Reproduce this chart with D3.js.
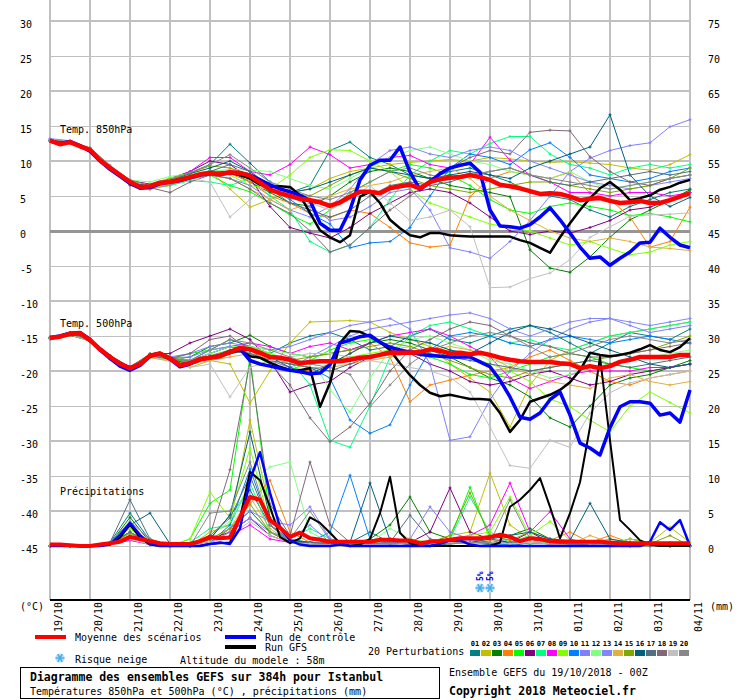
<!DOCTYPE html>
<html>
<head>
<meta charset="utf-8">
<script src="https://cdn.jsdelivr.net/npm/d3@7"></script>
<style>
body { margin: 0; background: #fff; }
svg text { font-family: "DejaVu Sans Mono", monospace; font-size: 10px; fill: #000; }
</style>
</head>
<body>
<div id="chart"></div>
<script>
// ---- data ----
var days = ["19/10","20/10","21/10","22/10","23/10","24/10","25/10","26/10","27/10",
            "28/10","29/10","30/10","31/10","01/11","02/11","03/11","04/11"];
var tempTicks = [30,25,20,15,10,5,0,-5,-10,-15,-20,-25,-30,-35,-40,-45];

// 6-hourly series: mean, control run, GFS run
var mean850 = [12.9,12.4,12.7,12.1,11.6,10.1,9.0,8.0,7.0,6.3,6.4,6.9,7.0,7.3,7.7,8.1,8.3,8.1,8.4,8.3,7.9,
  6.9,5.9,5.4,5.0,4.6,4.4,4.1,3.6,4.1,4.9,5.6,5.6,5.4,6.1,6.4,6.6,6.1,7.0,7.4,7.6,
  7.7,8.0,7.7,7.3,6.6,6.4,6.1,5.7,5.3,5.4,5.3,4.9,4.4,4.6,4.7,4.3,4.0,4.1,4.3,4.0,4.0,4.4,4.9,5.4];
var ctrl850 = [12.9,12.5,12.8,12.2,11.4,10.0,8.8,7.8,6.8,6.1,6.2,6.8,7.0,7.2,7.6,8.0,8.2,8.2,8.4,8.3,8.0,
  7.3,6.6,6.0,5.6,5.1,4.4,1.1,0.1,0.1,3.0,7.3,9.4,10.1,10.1,12.0,8.4,5.9,7.0,8.2,9.0,
  9.4,9.7,8.4,3.0,0.7,0.6,0.4,0.9,2.0,3.3,1.6,-0.3,-2.3,-3.9,-3.7,-4.9,-3.9,-3.0,-1.7,-1.6,0.4,-0.9,-2.0,-2.4];
var gfs850 = [12.8,12.4,12.7,12.1,11.5,10.2,9.1,8.0,7.0,6.3,6.4,6.9,7.1,7.4,7.7,8.1,8.3,8.0,8.3,8.0,7.5,
  6.6,6.3,6.4,6.3,5.1,2.6,0.1,-0.9,-1.6,-0.6,4.9,5.6,4.0,1.6,0.4,-0.6,-0.9,-0.3,-0.3,-0.6,
  -0.7,-0.8,-0.8,-0.8,-0.8,-0.8,-1.3,-1.7,-2.4,-3.1,-0.9,1.1,3.0,4.7,6.1,7.0,5.9,4.4,4.7,5.1,5.9,6.3,6.9,7.3];

var mean500 = [-15.3,-15.1,-14.7,-14.6,-15.6,-16.9,-18.0,-19.0,-19.6,-19.0,-17.8,-17.5,-18.2,-19.2,-18.9,-18.3,-18.1,-17.9,-17.3,-16.7,
  -16.9,-17.4,-18.0,-18.1,-18.4,-18.9,-18.7,-18.6,-18.6,-18.6,-18.4,-18.1,-18.0,-17.7,-17.4,-17.4,-17.4,-17.3,-16.9,-17.1,
  -17.5,-17.4,-17.6,-17.4,-17.7,-18.1,-18.4,-18.6,-18.7,-18.7,-18.7,-18.9,-19.0,-19.6,-19.3,-19.6,-19.3,-18.7,-18.4,-18.0,
  -18.0,-18.0,-18.0,-17.7,-17.7];
var ctrl500 = [-15.2,-15.0,-14.6,-14.5,-15.5,-17.0,-18.2,-19.3,-19.9,-19.2,-17.9,-17.5,-18.3,-19.4,-19.0,-18.4,-18.1,-17.8,-17.2,-16.8,
  -18.5,-19.0,-19.3,-19.6,-19.9,-20.1,-20.4,-20.3,-19.1,-16.0,-15.6,-15.1,-14.9,-15.9,-16.6,-17.0,-17.3,-17.6,-17.8,-17.9,
  -18.0,-18.0,-18.0,-18.7,-19.4,-21.3,-23.7,-26.6,-26.9,-26.0,-24.1,-23.0,-26.3,-30.3,-31.0,-32.0,-28.1,-25.1,-24.4,-24.4,
  -24.6,-26.3,-26.0,-27.3,-22.7];
var gfs500 = [-15.3,-15.1,-14.8,-14.6,-15.7,-16.8,-17.9,-18.9,-19.5,-18.9,-17.7,-17.4,-18.1,-19.1,-18.8,-18.2,-18.0,-17.9,-17.4,-17.0,
  -17.9,-18.1,-18.8,-19.4,-19.9,-19.9,-19.6,-25.1,-21.7,-16.0,-14.3,-14.4,-15.1,-15.9,-17.0,-18.9,-20.6,-22.0,-23.1,-23.6,
  -23.4,-23.7,-24.0,-24.0,-24.1,-26.0,-28.7,-27.0,-24.4,-23.9,-23.4,-22.7,-21.6,-19.9,-17.4,-17.7,-17.9,-17.7,-17.4,-16.9,
  -16.3,-17.0,-17.3,-16.6,-15.3];

// precipitation in mm (drawn on the right-hand scale, 0 mm = -45)
var meanPrecip = [0.2,0.2,0.1,0,0,0.2,0.4,0.6,1.3,1.0,0.7,0.4,0.3,0.3,0.3,0.7,1.3,1.1,1.2,4.1,
  7.0,6.6,3.7,2.6,1.3,1.9,1.1,0.9,0.6,0.6,0.6,0.6,0.6,0.9,0.9,0.8,0.8,0.4,0.6,0.7,
  0.9,1.1,1.1,1.1,1.3,1.6,1.3,0.7,1.1,1.0,0.7,0.6,0.6,0.6,0.6,0.6,0.5,0.4,0.4,0.4,0.4,0.4,0.4,0.4,0.4];
var ctrlPrecip = [0,0,0,0,0,0,0.2,1.6,3.3,1.6,0.3,0,0,0,0,0,0.3,0.5,0.3,2.5,
  9.4,13.4,7.6,2.7,0.8,0.2,0,0,0,0.2,0,0,0,0,0,0,0,0,0,0.3,
  0.8,0.8,0.2,0,0,0,0,0,0,0,0,0,0,0,0,0,0,0,0,0,0.6,3.4,2.3,3.7,0];
var gfsPrecip = [0,0,0,0,0,0,0.3,1.2,3.0,1.2,0.2,0,0,0,0,0,0.3,0.4,0.5,4.0,
  10.6,9.4,5.6,1.3,0.4,1.1,4.1,3.3,1.9,0.4,0,0.2,1.0,4.7,9.9,1.9,0.4,0,0,0,
  0,0,0,0,0,0.5,5.6,6.6,8.0,9.7,5.6,1.1,4.7,9.1,17.0,27.0,15.1,3.7,2.3,0.8,0.2,0,0,0,0];

// 20 perturbations, 12-hourly
var pertColors = ["#008080","#c0c000","#008000","#ff8000","#00ff00","#800080","#00ff80","#ff00ff","#80ff00","#0080ff",
                  "#8080ff","#80ff80","#8484ff","#e0b040","#80a800","#006080","#507080","#806878","#c0c0c0","#888888"];
var pertLabels = ["01","02","03","04","05","06","07","08","09","10","11","12","13","14","15","16","17","18","19","20"];

var pert850 = [
  [12.8,12.5,11.8,9.2,7.2,6.6,7.4,8.3,9.5,12.4,9.7,7.0,5.5,6.5,11.5,12.7,10.5,9.5,8.0,7.5,8.5,9.0,8.0,7.0,5.5,5.0,4.5,3.0,2.0,3.5,4.5,5.5,6.0],
  [12.9,12.6,11.5,8.9,6.8,6.0,6.5,7.5,8.5,6.0,3.4,4.5,5.5,6.0,7.5,8.5,9.0,9.5,9.8,10.0,10.2,10.0,10.5,10.3,10.0,9.8,9.9,9.7,9.5,9.0,8.7,9.5,10.9],
  [12.9,12.6,11.6,9.1,7.1,6.5,7.2,8.0,8.6,8.5,7.0,5.5,4.0,3.5,5.0,7.0,8.5,9.0,8.5,7.5,6.5,6.0,5.5,4.9,-2.7,-5.3,-5.9,-3.7,-0.9,1.6,3.0,4.4,5.9],
  [12.8,12.5,11.7,9.0,7.1,6.3,7.0,7.4,8.0,8.2,7.0,5.0,4.0,2.5,1.9,3.0,2.5,0.5,-1.7,-2.3,-2.0,4.9,7.5,8.5,8.0,7.5,8.4,5.4,4.5,2.0,-2.3,-1.5,3.4],
  [12.9,12.6,11.4,8.8,6.6,6.2,6.8,7.8,8.0,6.5,5.6,4.0,2.3,1.0,3.0,5.5,7.0,8.5,9.5,9.0,8.0,6.5,4.5,3.0,2.5,3.5,4.0,3.5,3.0,2.2,2.5,2.0,1.3],
  [13.0,12.7,11.8,9.1,7.2,6.7,7.5,8.5,10.0,9.5,7.5,3.5,0.5,-0.3,-1.0,0.5,2.5,4.0,5.5,6.0,5.5,4.0,2.0,0.0,-0.5,0.0,-0.3,0.5,1.5,3.0,3.4,4.5,5.5],
  [12.9,12.7,11.7,9.0,6.8,6.2,6.5,7.2,7.0,6.5,7.5,5.0,3.0,-1.5,-3.0,-2.0,0.5,4.5,8.0,10.0,11.5,11.0,12.5,13.5,13.5,11.0,9.5,9.0,8.0,9.0,9.5,9.0,9.5],
  [12.9,12.6,11.6,9.0,7.0,6.5,7.2,8.5,10.5,10.5,8.5,8.0,9.5,12.0,10.9,9.0,9.5,10.5,10.8,9.5,9.0,9.5,13.4,10.1,8.0,7.0,5.5,5.5,5.0,5.5,5.5,5.0,5.5],
  [12.8,12.5,11.5,8.9,6.9,6.6,7.6,8.0,8.5,8.0,6.5,6.0,8.0,10.5,11.6,11.5,10.0,8.5,6.0,4.0,3.0,2.0,1.0,0.5,0.0,-1.0,-2.0,-1.5,-2.5,-3.4,-3.0,-2.0,-1.5],
  [12.9,12.6,11.6,9.0,7.0,6.4,7.0,7.6,8.4,8.2,7.5,6.0,4.5,2.5,1.0,-2.4,-1.7,-1.5,0.5,5.0,9.0,11.0,10.5,9.5,11.6,12.6,10.5,8.0,7.5,7.0,7.5,8.5,9.0],
  [13.2,12.9,11.8,9.2,7.3,6.2,6.8,7.5,8.0,8.5,7.5,6.0,5.0,3.5,1.5,2.0,3.5,5.5,6.0,3.0,-2.4,-3.0,-3.9,-1.5,1.5,5.0,8.5,10.4,11.5,12.2,12.6,14.9,15.9],
  [12.9,12.6,11.7,9.2,7.3,7.0,7.8,8.2,8.5,8.8,8.7,8.5,7.5,6.5,6.0,7.5,9.0,10.5,11.5,12.0,11.0,10.0,9.5,8.5,8.0,7.5,8.5,7.0,6.0,6.5,7.0,7.5,8.0],
  [12.9,12.6,11.5,8.9,6.7,6.0,6.6,7.4,8.0,7.5,6.5,4.5,3.0,2.0,3.5,6.0,9.5,11.5,12.0,11.0,10.5,11.5,12.0,11.5,10.0,9.0,8.0,7.0,6.5,6.0,6.5,7.0,7.5],
  [12.8,12.5,11.4,8.8,6.6,5.9,6.8,7.5,8.0,7.5,6.0,4.5,3.0,4.0,5.0,6.0,6.5,7.0,8.0,8.5,9.0,7.5,5.0,3.0,1.5,0.0,-1.0,-1.5,-1.0,-1.5,-2.3,-2.5,-2.8],
  [12.9,12.6,11.7,9.1,7.1,6.5,7.4,8.3,9.3,9.0,8.0,6.5,5.5,5.0,6.5,8.0,9.0,8.5,7.5,6.5,6.0,5.5,6.0,6.5,7.0,7.0,6.5,6.0,5.5,6.0,6.5,7.5,9.0],
  [12.9,12.6,11.6,9.0,7.0,6.4,7.2,8.2,9.0,10.0,8.5,6.5,5.5,6.0,7.0,8.0,9.0,8.5,8.0,7.5,8.0,8.5,8.0,7.5,9.0,10.0,11.0,12.0,16.6,8.0,5.0,3.5,4.8],
  [12.9,12.6,11.5,8.9,6.8,6.2,6.9,7.8,8.5,9.5,8.5,6.0,4.0,3.0,2.0,3.0,5.0,6.5,7.0,6.5,7.0,8.0,8.5,9.0,8.0,7.0,6.5,7.0,7.5,8.0,8.5,8.0,8.5],
  [12.9,12.6,11.5,8.9,6.5,6.2,5.5,7.0,8.0,7.5,6.0,4.0,2.5,0.0,-3.0,-2.0,0.5,3.0,5.0,7.0,9.0,10.5,11.5,11.0,14.1,14.4,14.3,10.6,8.5,7.0,6.5,7.5,8.0],
  [12.8,12.5,11.6,9.0,7.0,6.6,7.2,7.5,7.0,2.0,4.5,7.0,5.5,4.0,3.0,4.5,6.5,4.0,1.5,2.0,3.0,0.6,-8.1,-8.0,-6.8,-6.0,-4.1,-0.9,0.6,2.1,2.3,2.4,2.6],
  [13.0,12.8,11.9,9.4,7.3,6.5,7.3,8.3,9.5,10.9,9.0,7.0,6.0,5.0,4.5,5.5,7.0,8.5,9.0,8.0,7.5,8.0,8.5,9.0,8.0,7.5,7.0,6.5,6.0,6.5,7.0,7.5,8.0]
];

var pert500 = [
  [-15.2,-14.6,-15.8,-18.3,-19.9,-17.5,-18.0,-18.5,-17.0,-15.5,-16.5,-17.5,-16.0,-15.0,-14.5,-15.5,-17.0,-16.5,-15.0,-14.0,-15.5,-16.0,-15.0,-14.0,-13.5,-14.5,-16.0,-17.5,-16.0,-14.5,-15.0,-15.5,-14.0],
  [-15.3,-14.8,-15.5,-17.8,-19.5,-17.6,-18.5,-19.5,-18.5,-19.0,-24.6,-20.0,-16.0,-13.0,-12.9,-12.8,-13.0,-14.5,-15.5,-16.5,-19.0,-21.0,-23.0,-28.0,-22.0,-18.5,-17.0,-16.0,-15.0,-14.5,-14.0,-13.5,-13.0],
  [-15.4,-14.9,-15.7,-18.1,-19.7,-17.9,-18.4,-18.0,-16.5,-16.0,-14.9,-16.5,-17.5,-18.0,-17.5,-17.0,-16.0,-15.5,-16.0,-17.0,-18.0,-19.5,-21.0,-22.0,-23.7,-26.7,-28.0,-25.0,-22.0,-21.0,-20.5,-19.5,-18.5],
  [-15.2,-14.6,-15.6,-18.2,-19.8,-18.0,-18.5,-19.0,-18.0,-17.5,-17.0,-18.5,-19.5,-20.0,-19.0,-17.5,-16.0,-18.0,-24.4,-22.0,-21.3,-20.6,-20.0,-19.5,-18.0,-17.0,-18.5,-20.0,-21.5,-22.0,-21.0,-20.5,-20.0],
  [-15.3,-14.7,-15.5,-17.9,-19.5,-17.7,-18.3,-17.5,-17.0,-16.5,-17.5,-19.0,-20.0,-18.5,-17.0,-16.0,-15.5,-16.5,-17.5,-18.0,-19.0,-20.5,-21.0,-20.0,-19.0,-18.0,-17.5,-18.0,-19.0,-19.5,-20.0,-19.5,-19.0],
  [-15.3,-14.5,-15.4,-17.8,-19.4,-17.6,-17.5,-16.0,-15.0,-14.0,-15.5,-18.5,-23.0,-22.0,-21.5,-19.5,-18.0,-17.0,-17.5,-19.0,-20.0,-21.5,-22.0,-21.5,-20.5,-20.0,-21.0,-22.0,-21.5,-20.5,-20.0,-19.5,-19.0],
  [-15.3,-14.7,-15.6,-18.0,-19.6,-17.8,-18.2,-18.8,-18.0,-17.0,-16.5,-17.5,-18.5,-22.0,-29.9,-30.9,-25.0,-18.0,-15.0,-13.5,-13.0,-14.0,-15.0,-16.0,-15.5,-16.5,-17.0,-16.0,-15.0,-14.5,-14.0,-13.5,-13.0],
  [-15.2,-14.7,-15.5,-18.0,-19.5,-17.8,-18.0,-18.5,-17.5,-16.5,-16.0,-16.5,-17.5,-16.5,-16.0,-17.0,-16.0,-15.0,-14.5,-14.0,-15.0,-16.5,-18.0,-21.0,-22.5,-21.5,-20.5,-20.0,-20.0,-20.0,-19.5,-19.5,-19.0],
  [-15.3,-14.8,-15.7,-18.1,-19.7,-17.9,-18.4,-19.0,-18.0,-17.0,-16.5,-17.5,-18.5,-19.0,-18.5,-18.0,-17.5,-17.0,-16.5,-16.0,-17.0,-18.0,-19.0,-20.0,-21.5,-24.0,-25.1,-27.0,-28.7,-25.0,-23.0,-24.5,-26.0],
  [-15.3,-14.7,-15.6,-18.0,-19.6,-17.8,-18.2,-18.5,-17.5,-16.5,-17.0,-18.0,-19.0,-19.5,-21.0,-27.0,-28.9,-27.7,-22.0,-17.0,-15.0,-14.5,-15.0,-16.0,-16.5,-15.5,-15.0,-15.5,-16.0,-15.5,-15.0,-15.5,-16.0],
  [-15.4,-14.8,-15.6,-18.0,-19.7,-17.9,-18.0,-17.5,-16.5,-16.0,-16.5,-17.0,-16.5,-15.5,-14.5,-13.5,-13.0,-12.5,-14.0,-19.0,-29.9,-29.4,-24.1,-20.0,-17.5,-15.5,-14.0,-13.0,-12.5,-13.5,-14.5,-14.0,-13.5],
  [-15.3,-14.7,-15.5,-17.9,-19.5,-17.6,-18.0,-18.5,-17.5,-16.5,-16.5,-17.0,-17.5,-18.0,-22.7,-25.9,-21.0,-17.0,-15.5,-15.0,-16.0,-17.0,-18.5,-19.0,-20.0,-21.0,-20.5,-19.5,-19.0,-18.5,-18.0,-17.5,-17.0],
  [-15.2,-14.6,-15.5,-17.9,-19.6,-17.7,-18.1,-18.0,-17.0,-16.5,-17.5,-18.5,-19.5,-18.0,-16.5,-15.0,-14.0,-13.5,-13.0,-12.5,-12.0,-11.7,-12.5,-14.0,-15.0,-14.0,-13.0,-12.5,-12.5,-13.0,-13.5,-13.0,-12.5],
  [-15.3,-14.8,-15.6,-18.1,-19.8,-18.1,-18.6,-19.0,-18.5,-18.0,-17.5,-18.0,-19.0,-19.5,-19.5,-19.0,-18.5,-18.0,-17.5,-17.0,-16.5,-17.0,-18.0,-19.5,-20.5,-21.5,-22.0,-22.5,-21.0,-20.5,-21.5,-22.0,-21.5],
  [-15.3,-14.7,-15.6,-18.0,-19.6,-17.8,-18.2,-18.8,-17.8,-17.0,-17.0,-18.0,-18.5,-18.0,-17.5,-17.0,-16.5,-16.0,-16.5,-17.5,-18.5,-19.5,-20.5,-21.0,-20.0,-19.5,-19.0,-18.5,-18.0,-17.5,-17.0,-16.0,-15.0],
  [-15.3,-14.7,-15.6,-18.0,-19.6,-17.8,-18.3,-19.0,-18.0,-17.5,-17.0,-18.0,-19.5,-20.5,-19.0,-17.5,-16.0,-15.0,-15.5,-16.0,-17.0,-17.5,-16.0,-14.5,-13.5,-14.0,-15.0,-16.0,-17.0,-18.0,-19.0,-19.5,-19.0],
  [-15.2,-14.6,-15.5,-17.9,-19.5,-17.7,-18.1,-18.6,-17.9,-17.2,-17.5,-18.5,-19.0,-19.5,-20.0,-19.0,-18.0,-17.5,-17.0,-17.5,-18.0,-18.5,-19.0,-19.5,-20.0,-19.5,-19.0,-18.5,-19.0,-19.5,-19.0,-18.5,-18.0],
  [-15.3,-14.7,-15.6,-18.0,-19.6,-17.8,-18.2,-17.5,-15.5,-15.0,-17.0,-19.0,-22.0,-26.7,-30.1,-28.0,-24.6,-20.0,-17.0,-15.5,-14.0,-13.0,-13.5,-15.0,-16.0,-16.5,-17.5,-18.0,-18.0,-17.5,-17.0,-16.5,-16.0],
  [-15.3,-14.8,-15.7,-18.2,-19.8,-18.0,-18.5,-19.5,-19.0,-23.7,-19.5,-18.5,-18.0,-17.5,-17.5,-18.0,-18.5,-19.0,-19.5,-20.0,-20.9,-23.0,-28.0,-33.5,-33.9,-29.9,-30.9,-26.0,-23.1,-21.7,-21.0,-20.5,-20.0],
  [-15.3,-14.7,-15.6,-18.0,-19.6,-17.8,-18.2,-18.5,-17.0,-15.5,-16.0,-17.0,-18.0,-19.0,-19.5,-20.5,-25.1,-22.0,-19.0,-17.0,-16.0,-15.0,-14.5,-15.0,-16.5,-18.0,-17.5,-16.5,-15.5,-15.0,-15.5,-16.0,-15.5]
];

var pertPrecip = [
  [0,0,0,0.5,4.7,0.8,0,0,1.0,4.4,8.0,3.0,1.0,0.5,0.2,0.5,2.0,0.5,0.2,0,0.3,0.5,0.2,0,0.5,0.3,0.5,0.2,0,0,0,0,0],
  [0,0,0,0.2,1.5,0.3,0,0,2.0,3.0,18.0,5.0,0.5,0.2,0,0,0,0.5,1.0,0.5,1.5,2.0,10.4,3.0,1.0,0.5,0.3,0.5,1.0,0.5,0.5,2.7,0.5],
  [0,0,0,0.3,4.1,0.5,0,0,0.5,2.5,5.0,2.0,0.5,0.2,0.5,0.3,1.0,3.0,7.0,2.0,1.0,0.5,0.3,1.5,2.5,1.0,0.5,0.2,0.3,0.5,0.2,0,0],
  [0,0,0,0.2,1.0,0.2,0,0,0.5,2.0,6.0,9.4,2.0,0.5,0.2,0,0.2,0.3,0.5,0.3,0.5,1.0,0.5,0.3,0.5,0.8,2.0,0.5,1.5,0.5,0.3,0.2,0],
  [0,0,0,0.5,2.0,0.5,0,1.0,6.1,8.0,27.0,4.0,1.0,0.3,0.2,0.5,0.5,0.3,0.5,0.5,1.0,8.4,1.0,0.5,0.3,0.5,0.8,0.3,0.2,0.2,0.3,0,0],
  [0,0,0,0.3,1.5,0.3,0,0,1.0,2.0,4.0,1.5,0.5,0.3,0.5,0.2,0.5,1.0,0.5,2.0,8.3,2.0,1.0,0.5,2.0,0.5,0.3,0.2,0.3,1.0,0.5,0.3,0],
  [0,0,0,0.2,1.2,0.2,0,0.5,2.5,3.0,9.0,2.0,1.0,2.5,1.0,0.5,0.3,0.2,0.5,0.3,1.0,7.0,2.0,0.5,1.5,0.5,0.3,0.5,0.2,0.3,0.2,0.3,0],
  [0,0,0,0.2,0.8,0.2,0,0,0.5,1.5,3.0,1.0,0.5,0.2,0.2,0.3,0.2,0.5,0.3,0.5,1.0,1.5,3.0,9.0,2.0,4.9,1.0,0.3,0.2,0.2,0.3,0,0],
  [0,0,0,0.5,2.5,0.3,0,1.0,7.7,4.0,14.0,3.0,0.5,0.3,0.2,0.5,0.3,1.0,0.5,0.3,0.5,1.5,2.0,7.0,1.5,3.5,0.8,0.5,0.3,1.0,0.5,0.3,0],
  [0,0,0,0.2,2.0,0.3,0,0,0.5,3.0,11.0,3.0,0.8,0.5,2.0,10.1,1.0,0.5,0.3,0.2,0.5,0.5,0.3,0.2,0.5,0.8,0.3,0.5,0.2,0,0.2,0.5,0],
  [0,0,0,0.3,1.5,0.3,0,0,0.8,2.5,5.0,3.5,3.0,5.6,1.0,0.5,0.3,0.5,1.0,5.6,2.0,1.0,0.5,0.3,0.5,0.3,0.2,0.3,0.5,0.3,0.2,0,0],
  [0,0,0,0.2,1.0,0.2,0,0,1.5,3.5,9.0,11.3,12.0,2.0,0.5,0.3,0.5,2.5,1.0,0.5,0.5,1.0,0.5,0.3,1.5,0.5,0.3,0.5,0.2,0.2,0,0,0],
  [0,0,0,0.2,1.2,0.2,0,0,0.5,2.0,4.0,2.0,1.0,3.0,0.5,0.3,0.2,0.5,0.3,0.5,1.0,0.8,0.5,1.0,0.5,0.3,0.5,0.3,0.2,0.3,0.2,0,0],
  [0,0,0,0.2,1.5,0.5,0,0,0.8,2.5,7.0,2.5,0.5,0.3,0.2,0.2,0.3,0.2,0.5,0.5,0.3,0.5,0.8,1.0,0.5,0.3,0.2,1.5,0.5,0.3,0.2,0,0],
  [0,0,0,0.3,1.8,0.3,0,0,1.0,2.5,6.0,2.0,0.5,0.3,0.5,0.2,0.5,1.0,0.5,0.5,1.5,7.6,1.5,0.8,2.0,1.0,0.5,0.3,0.2,0.5,0.3,1.5,0],
  [0,0,0,0.5,3.0,4.7,0.3,0,1.0,4.4,16.3,4.0,0.8,0.5,0.3,0.5,9.0,0.8,0.5,0.3,0.5,0.5,1.0,1.5,2.0,1.0,0.8,6.1,1.0,0.5,0.3,0.2,0],
  [0,0,0,0.5,6.6,1.0,0,0,1.5,4.0,10.0,3.0,0.5,0.5,0.3,0.2,0.3,0.5,4.4,1.0,0.5,0.5,0.3,0.5,1.0,0.5,0.3,0.5,0.2,0.3,0,0,0],
  [0,0,0,0.3,2.0,0.3,0,0,1.5,10.9,26.3,6.0,1.5,12.0,3.0,0.5,0.3,0.5,0.3,0.5,0.5,1.0,0.5,0.3,1.0,0.5,0.3,0.2,0.2,0.3,0.2,0,0],
  [0,0,0,0.2,1.0,0.3,0,0,0.5,1.5,3.5,1.5,0.5,0.3,0.2,0.3,0.2,0.2,0.5,0.3,0.5,0.3,0.5,0.3,0.5,0.8,0.5,0.3,0.2,0.3,0.2,0,0],
  [0,0,0,0.5,3.5,1.0,0,0,4.7,5.0,12.0,3.0,1.0,5.0,0.8,0.3,0.5,0.3,0.5,0.5,0.3,0.5,0.5,6.6,1.0,0.5,0.3,0.5,0.2,0.3,0.2,0,0]
];

// snow risk (forecast hour, probability)
var snowHours = [258, 264];
var snowPct = ["5%", "5%"];

// ---- drawing ----
var svg = d3.select("#chart").append("svg")
    .attr("width", 740)
    .attr("height", 700);

var x = d3.scaleLinear().domain([0, 384]).range([50, 690]);
var y = d3.scaleLinear().domain([-45, 30]).range([546, 21]);
var yP = function(p) { return y(p - 45); };

// vertical grid, one per day
svg.append("g").selectAll("line")
    .data(days).enter().append("line")
    .attr("x1", function(d, i) { return x(i * 24); })
    .attr("x2", function(d, i) { return x(i * 24); })
    .attr("y1", 0).attr("y2", 600)
    .attr("stroke", "#c0c0c0").attr("stroke-width", 2)
    .attr("shape-rendering", "crispEdges");

// horizontal grid
svg.append("g").selectAll("line")
    .data(tempTicks).enter().append("line")
    .attr("x1", 50).attr("x2", 690)
    .attr("y1", function(d) { return y(d) + (d % 10 === 0 ? 0 : 0.5); })
    .attr("y2", function(d) { return y(d) + (d % 10 === 0 ? 0 : 0.5); })
    .attr("stroke", function(d) { return d === 0 ? "#959595" : "#c0c0c0"; })
    .attr("stroke-width", function(d) { return d === 0 ? 3 : (d % 10 === 0 ? 2 : 1); })
    .attr("shape-rendering", "crispEdges");

// bottom axis line
svg.append("line")
    .attr("x1", 50).attr("x2", 690).attr("y1", 600).attr("y2", 600)
    .attr("stroke", "#000").attr("stroke-width", 2);

// left and right scales
var leftAxis = svg.append("g")
    .attr("transform", "translate(20,0)")
    .call(d3.axisRight(y).tickValues(tempTicks).tickSize(0).tickPadding(0)
        .tickFormat(function(d) { return String(d); }));
leftAxis.select(".domain").remove();
leftAxis.selectAll("text").attr("dy", "0.6em");

var rightAxis = svg.append("g")
    .attr("transform", "translate(708,0)")
    .call(d3.axisRight(y).tickValues(tempTicks).tickSize(0).tickPadding(0)
        .tickFormat(function(d) { return String(d + 45); }));
rightAxis.select(".domain").remove();
rightAxis.selectAll("text").attr("dy", "0.6em");

// date labels
svg.append("g").selectAll("text")
    .data(days).enter().append("text")
    .attr("transform", function(d, i) { return "translate(" + (x(i * 24) + 12) + ",602) rotate(-90)"; })
    .attr("text-anchor", "end")
    .text(function(d) { return d; });

svg.append("text").attr("x", 20).attr("y", 610).text("(°C)");
svg.append("text").attr("x", 710).attr("y", 610).text("(mm)");

// panel titles
svg.append("text").attr("x", 60).attr("y", 133).text("Temp. 850hPa");
svg.append("text").attr("x", 60).attr("y", 327).text("Temp. 500hPa");
svg.append("text").attr("x", 60).attr("y", 495).text("Précipitations");

// line generators
var line6 = d3.line().x(function(d, i) { return x(i * 6); }).y(function(d) { return y(d); });
var line12 = d3.line().x(function(d, i) { return x(i * 12); }).y(function(d) { return y(d); });
var line6p = d3.line().x(function(d, i) { return x(i * 6); }).y(function(d) { return yP(d); });
var line12p = d3.line().x(function(d, i) { return x(i * 12); }).y(function(d) { return yP(d); });

var gPert = svg.append("g");

function drawPert(sets, gen, yf) {
    sets.forEach(function(vals, m) {
        var col = pertColors[m];
        gPert.append("path")
            .attr("d", gen(vals))
            .attr("fill", "none")
            .attr("stroke", col)
            .attr("stroke-width", 1);
        gPert.append("path")
            .attr("d", vals.map(function(v, i) {
                var px = x(i * 12), py = yf(v);
                return "M" + (px - 1.5) + "," + py + "h3M" + px + "," + (py - 1.5) + "v3";
            }).join(""))
            .attr("stroke", col)
            .attr("stroke-width", 1);
    });
}
drawPert(pertPrecip, line12p, yP);
drawPert(pert500, line12, y);
drawPert(pert850, line12, y);

function drawMain(vals, gen, col, w) {
    svg.append("path")
        .attr("d", gen(vals))
        .attr("fill", "none")
        .attr("stroke", col)
        .attr("stroke-width", w)
        .attr("stroke-linejoin", "round");
}
// GFS, control, then mean on top
drawMain(gfsPrecip, line6p, "#000", 2);
drawMain(gfs500, line6, "#000", 2.5);
drawMain(gfs850, line6, "#000", 2.5);
drawMain(ctrlPrecip, line6p, "#0000ff", 2.5);
drawMain(ctrl500, line6, "#0000ff", 3.5);
drawMain(ctrl850, line6, "#0000ff", 3.5);
drawMain(meanPrecip, line6p, "#ff0000", 4);
drawMain(mean500, line6, "#ff0000", 4.5);
drawMain(mean850, line6, "#ff0000", 4.5);

// snowflake glyph
function flake(g, cx, cy) {
    g.append("circle").attr("cx", cx).attr("cy", cy).attr("r", 4.6)
        .attr("fill", "#b4e0fa");
    [0, 60, 120].forEach(function(a) {
        var r = a * Math.PI / 180;
        g.append("line")
            .attr("x1", cx - 4.5 * Math.cos(r)).attr("y1", cy - 4.5 * Math.sin(r))
            .attr("x2", cx + 4.5 * Math.cos(r)).attr("y2", cy + 4.5 * Math.sin(r))
            .attr("stroke", "#40a8ec").attr("stroke-width", 1.3);
    });
}

var gSnow = svg.append("g");
snowHours.forEach(function(h, i) {
    flake(gSnow, x(h), 588);
    gSnow.append("text")
        .attr("transform", "translate(" + (x(h) + 2.5) + ",581) rotate(-90)")
        .style("font-size", "8px").style("font-weight", "bold").style("fill", "#0000ee")
        .text(snowPct[i]);
});

// ---- legend ----
var leg = svg.append("g");
leg.append("line").attr("x1", 35).attr("x2", 66).attr("y1", 637).attr("y2", 637)
    .attr("stroke", "#ff0000").attr("stroke-width", 4);
leg.append("text").attr("x", 75).attr("y", 641).text("Moyenne des scénarios");
leg.append("line").attr("x1", 225).attr("x2", 256).attr("y1", 637).attr("y2", 637)
    .attr("stroke", "#0000ff").attr("stroke-width", 4);
leg.append("text").attr("x", 265).attr("y", 641).text("Run de contrôle");
leg.append("line").attr("x1", 225).attr("x2", 256).attr("y1", 647).attr("y2", 647)
    .attr("stroke", "#000").attr("stroke-width", 4);
leg.append("text").attr("x", 265).attr("y", 651).text("Run GFS");
flake(leg, 60, 658);
leg.append("text").attr("x", 75).attr("y", 663).text("Risque neige");
leg.append("text").attr("x", 180).attr("y", 664).text("Altitude du modele : 58m");

leg.append("text").attr("x", 368).attr("y", 655).text("20 Perturbations");
leg.selectAll("rect.pb").data(pertColors).enter().append("rect")
    .attr("class", "pb")
    .attr("x", function(d, i) { return 470 + i * 11; })
    .attr("y", 650).attr("width", 10).attr("height", 6)
    .attr("fill", function(d) { return d; });
leg.selectAll("text.pl").data(pertLabels).enter().append("text")
    .attr("class", "pl")
    .attr("x", function(d, i) { return 475 + i * 11; })
    .attr("y", 646)
    .attr("text-anchor", "middle")
    .style("font-size", "7px").style("font-weight", "bold")
    .text(function(d) { return d; });

leg.append("rect").attr("x", 20.5).attr("y", 667.5).attr("width", 419).attr("height", 31)
    .attr("fill", "none").attr("stroke", "#000").attr("stroke-width", 1);
leg.append("text").attr("x", 30).attr("y", 681)
    .style("font-size", "11.5px").style("font-weight", "bold")
    .text("Diagramme des ensembles GEFS sur 384h pour Istanbul");
leg.append("text").attr("x", 30).attr("y", 695)
    .text("Températures 850hPa et 500hPa (°C) , précipitations (mm)");
leg.append("text").attr("x", 449).attr("y", 676).text("Ensemble GEFS du 19/10/2018 - 00Z");
leg.append("text").attr("x", 449).attr("y", 695)
    .style("font-size", "11.5px").style("font-weight", "bold")
    .text("Copyright 2018 Meteociel.fr");
</script>
</body>
</html>
